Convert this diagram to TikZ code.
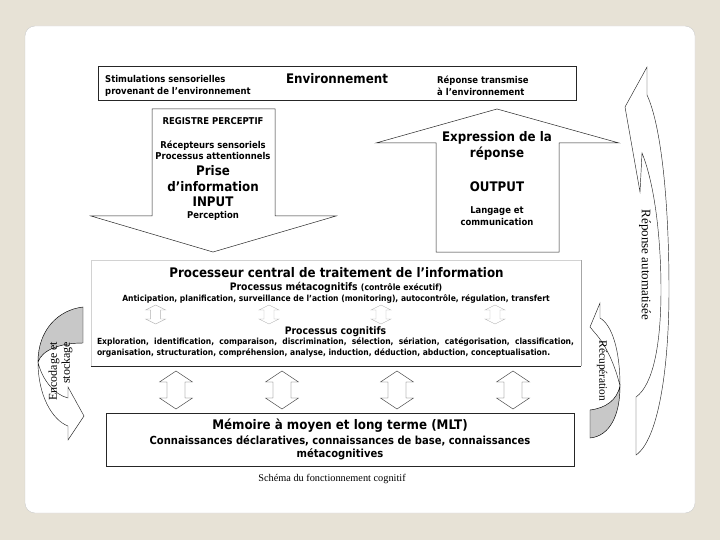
\documentclass[tikz,border=0pt]{standalone}
\usepackage{fontspec}
\setmainfont{Liberation Serif}
\newfontfamily\verd{DejaVu Sans}[FakeStretch=0.9]
\definecolor{fond}{RGB}{231,226,214}
\definecolor{ombre}{RGB}{200,200,200}
\tikzset{
	boite/.style={draw=black!85, line width=0.6pt, inner sep=0pt},
	fleche/.style={draw=black!85, line width=0.5pt, fill=white},
	txs/.style={font=\verd\bfseries\fontsize{9.4}{11.6}\selectfont, inner sep=0pt},
	txp/.style={font=\verd\bfseries\fontsize{8.45}{10.3}\selectfont, inner sep=0pt},
	txm/.style={font=\verd\bfseries\fontsize{10.3}{12}\selectfont, inner sep=0pt},
	txl/.style={font=\verd\bfseries\fontsize{11.1}{13}\selectfont, inner sep=0pt},
	txb/.style={font=\verd\bfseries\fontsize{13.2}{15.6}\selectfont, inner sep=0pt},
	serif/.style={font=\fontsize{#1}{#1}\selectfont, inner sep=0pt}
}
\begin{document}
\begin{tikzpicture}[x=1pt, y=-1pt]
	\useasboundingbox (0,0) rectangle (720,540);
	\fill[fond] (0,0) rectangle (720,540);
	\draw[gray!40, fill=white, rounded corners=10pt] (25,26) rectangle (695,513);

	% environnement
	\node[boite, anchor=north west, minimum width=478pt, minimum height=34pt] (env) at (98,66) {};
	\node[txs, anchor=west, align=left] (stim) at (105,86) {Stimulations sensorielles\\provenant de l’environnement};
	\node[txb] (envt) at (337,79) {Environnement};
	\node[txs, anchor=west, align=left] (trans) at (437,86) {Réponse transmise\\à l’environnement};

	% input / output
	\draw[fleche] (152,109) -- (275,109) -- (275,216) -- (336,216) -- (213,252) -- (91,216) -- (152,216) -- cycle;
	\draw[fleche] (436,252) -- (436,143) -- (376,143) -- (497,109) -- (619,143) -- (559,143) -- (559,252) -- cycle;
	\node[txs] (reg) at (213,121.5) {REGISTRE PERCEPTIF};
	\node[txs, align=center] (recep) at (213,150.3) {Récepteurs sensoriels\\Processus attentionnels};
	\node[txb, align=center] (prise) at (213,186.2) {Prise\\d’information\\INPUT};
	\node[txs] (perc) at (213,215.6) {Perception};
	\node[txb, align=center] (expr) at (497,146) {Expression de la\\réponse};
	\node[txb] (outp) at (497,186.3) {OUTPUT};
	\node[txs, align=center] (lang) at (497,216) {Langage et\\communication};

	% processeur central
	\node[inner sep=0pt, anchor=north west, minimum width=490pt, minimum height=106pt] (proc) at (91,260) {};
	\draw[gray!35] (proc.south west) -- (proc.north west) -- (proc.north east);
	\draw[gray!70] (proc.north east) -- (proc.south east);
	\draw[black!85, line width=0.6pt] (proc.south west) -- (proc.south east);
	\node[txb] (titre) at (336.5,273) {Processeur central de traitement de l’information};
	\node[txm] (meta) at (336,287.5) {Processus métacognitifs {\fontsize{8.6}{10}\selectfont(contrôle exécutif)}};
	\node[txp] (antic) at (336,298.6) {Anticipation, planification, surveillance de l’action (monitoring), autocontrôle, régulation, transfert};
	\foreach \x in {155.6,269,381,495}
		\draw[gray!60, line width=0.4pt] (\x,305) -- (\x+10,310) -- (\x+5,310) -- (\x+5,319) -- (\x+10,319) -- (\x,324)
			-- (\x-10,319) -- (\x-5,319) -- (\x-5,310) -- (\x-10,310) -- cycle;
	\node[txm] (cogn) at (335.5,331.3) {Processus cognitifs};
	\node[txp, text width=477pt, align=justify] (explo) at (335.5,347.5) {Exploration, identification, comparaison, discrimination, sélection, sériation, catégorisation, classification,\linebreak organisation, structuration, compréhension, analyse, induction, déduction, abduction, conceptualisation.};

	% fleches vers la memoire
	\foreach \x in {176,282,397,513}
		\draw[black!70, line width=0.45pt] (\x,371) -- (\x+16.5,382) -- (\x+9,382) -- (\x+9,398) -- (\x+16.5,398) -- (\x,409)
			-- (\x-16.5,398) -- (\x-9,398) -- (\x-9,382) -- (\x-16.5,382) -- cycle;

	% memoire
	\node[boite, anchor=north west, minimum width=468pt, minimum height=53pt] (mem) at (106,413) {};
	\node[txb] (memt) at (340,426) {Mémoire à moyen et long terme (MLT)};
	\node[txl, align=center] (conn) at (340,447.5) {Connaissances déclaratives, connaissances de base, connaissances\\métacognitives};
	\node[serif=10.3] (legende) at (332,478.6) {Schéma du fonctionnement cognitif};

	% encodage
	\draw[fill=ombre, line width=0.45pt] (83,307) .. controls (58,310) and (38,330) .. (38,362)
		.. controls (42,350) and (60,343) .. (83,343) -- cycle;
	\draw[fleche, line width=0.45pt] (38,362) .. controls (38,395) and (52,420) .. (68,426) -- (68,440) -- (84,416) -- (68,387) -- (68,398)
		.. controls (55,395) and (42,380) .. (38,362) -- cycle;
	\node[serif=12, align=right, rotate=90, font=\fontsize{12}{13}\selectfont] (enc) at (60.5,371.5) {Encodage et\\stockage};

	% recuperation
	\draw[fill=ombre, line width=0.45pt] (590,410) -- (590,438) .. controls (610,436) and (620,415) .. (620,386)
		.. controls (617,400) and (606,408) .. (590,410) -- cycle;
	\draw[fleche, line width=0.45pt] (620,386) .. controls (620,350) and (612,325) .. (600,318) -- (600,303) -- (590,327) -- (595,333)
		.. controls (606,345) and (615,365) .. (620,386) -- cycle;
	\node[serif=11.4, rotate=-90] (recup) at (602,371) {Récupération};

	% reponse automatisee
	\draw[fleche, line width=0.45pt] (636,397) -- (636,455) .. controls (658,440) and (669,370) .. (669,290)
		.. controls (669,200) and (661,125) .. (647,95) -- (647,67) -- (625,107) -- (640,192) -- (642,153)
		.. controls (655,185) and (661,240) .. (661,290) .. controls (661,345) and (653,385) .. (636,397) -- cycle;
	\node[serif=13, rotate=-90] (auto) at (645,265) {Réponse automatisée};
\end{tikzpicture}
\end{document}
